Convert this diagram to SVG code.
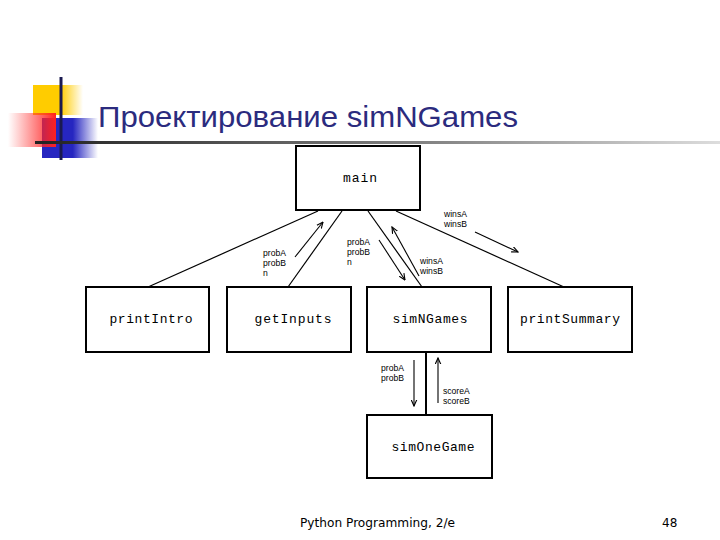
<svg xmlns="http://www.w3.org/2000/svg" width="720" height="540" viewBox="0 0 720 540">
<defs>
<linearGradient id="gY" x1="0" y1="0" x2="1" y2="0"><stop offset="0" stop-color="#FFCC00"/><stop offset="0.55" stop-color="#FFCC00"/><stop offset="1" stop-color="#FFCC00" stop-opacity="0"/></linearGradient>
<linearGradient id="gB" x1="0" y1="0" x2="1" y2="0"><stop offset="0" stop-color="#2626C0"/><stop offset="0.55" stop-color="#2626C0"/><stop offset="1" stop-color="#2626C0" stop-opacity="0"/></linearGradient>
<linearGradient id="gR" x1="0" y1="0" x2="1" y2="0"><stop offset="0" stop-color="#FF3030" stop-opacity="0"/><stop offset="1" stop-color="#FF2020"/></linearGradient>
<linearGradient id="gL" x1="0" y1="0" x2="1" y2="0"><stop offset="0" stop-color="#222222"/><stop offset="0.6" stop-color="#888888"/><stop offset="1" stop-color="#dddddd"/></linearGradient>
<marker id="ah" viewBox="0 0 10 10" refX="9" refY="5" markerWidth="7" markerHeight="7" orient="auto" markerUnits="userSpaceOnUse"><path d="M0,1 L9,5 L0,9" fill="none" stroke="#000" stroke-width="1.6"/></marker>
<style>
.box{fill:#fff;stroke:#000;stroke-width:2}
.bl{font-family:"Liberation Mono",monospace;font-size:13px;fill:#000;text-anchor:middle}
.lb{font-family:"Liberation Sans",Arial,sans-serif;font-size:8.6px;fill:#000}
.cn{stroke:#000;stroke-width:1.2;fill:none}
.ar{stroke:#000;stroke-width:1.1;fill:none;marker-end:url(#ah)}
</style>
</defs>
<rect width="720" height="540" fill="#fff"/>
<g id="logo">
<rect x="33" y="85" width="50" height="30" fill="url(#gY)"/>
<rect x="42" y="118" width="56" height="40" fill="url(#gB)"/>
<rect x="8" y="113" width="48" height="34" fill="url(#gR)"/>
<line x1="61" y1="77" x2="61" y2="160" stroke="#1a1a50" stroke-width="3"/>
<rect x="35" y="141" width="685" height="3" fill="url(#gL)"/>
</g>
<text id="title" x="98" y="127" font-family="'Liberation Sans',Arial,sans-serif" font-size="30" fill="#2b2b7e" textLength="420" lengthAdjust="spacingAndGlyphs">Проектирование simNGames</text>
<g id="connectors">
<line class="cn" x1="318" y1="211" x2="148" y2="287"/>
<line class="cn" x1="342" y1="211" x2="288" y2="287"/>
<line class="cn" x1="368" y1="211" x2="422" y2="287"/>
<line class="cn" x1="396" y1="211" x2="564" y2="287"/>
<line x1="426" y1="352" x2="426" y2="415" stroke="#000" stroke-width="2"/>
<line class="ar" x1="295" y1="257" x2="323" y2="222"/>
<line class="ar" x1="379" y1="240" x2="405" y2="280"/>
<line class="ar" x1="419" y1="276" x2="392" y2="227"/>
<line class="ar" x1="475" y1="232" x2="518" y2="252"/>
<line class="ar" x1="414" y1="360" x2="414" y2="406"/>
<line class="ar" x1="438" y1="403" x2="438" y2="358"/>
<g class="lb">
<text x="263" y="256">probA</text><text x="263" y="266">probB</text><text x="263" y="276">n</text>
<text x="347" y="245">probA</text><text x="347" y="255">probB</text><text x="347" y="265">n</text>
<text x="420" y="264">winsA</text><text x="420" y="274">winsB</text>
<text x="444" y="217">winsA</text><text x="444" y="227">winsB</text>
<text x="381" y="371">probA</text><text x="381" y="381">probB</text>
<text x="443" y="394">scoreA</text><text x="443" y="404">scoreB</text>
</g>
</g>
<g id="main"><rect class="box" x="296" y="146" width="124" height="64"/><text class="bl" x="360" y="182" textLength="34">main</text></g>
<g id="printIntro"><rect class="box" x="86" y="287" width="123" height="65"/><text class="bl" x="151" y="323" textLength="83">printIntro</text></g>
<g id="getInputs"><rect class="box" x="227" y="287" width="124" height="65"/><text class="bl" x="293" y="323" textLength="77">getInputs</text></g>
<g id="simNGames"><rect class="box" x="367" y="287" width="124" height="65"/><text class="bl" x="430" y="323" textLength="75">simNGames</text></g>
<g id="printSummary"><rect class="box" x="508" y="287" width="124" height="65"/><text class="bl" x="570" y="323" textLength="100">printSummary</text></g>
<g id="simOneGame"><rect class="box" x="367" y="415" width="125" height="63"/><text class="bl" x="433" y="451" textLength="83">simOneGame</text></g>
<text id="footer" x="300" y="527" font-family="'DejaVu Sans',Verdana,sans-serif" font-size="12" fill="#000" textLength="155" lengthAdjust="spacingAndGlyphs">Python Programming, 2/e</text>
<text id="page" x="662" y="527" font-family="'DejaVu Sans',Verdana,sans-serif" font-size="12" fill="#000">48</text>
</svg>
